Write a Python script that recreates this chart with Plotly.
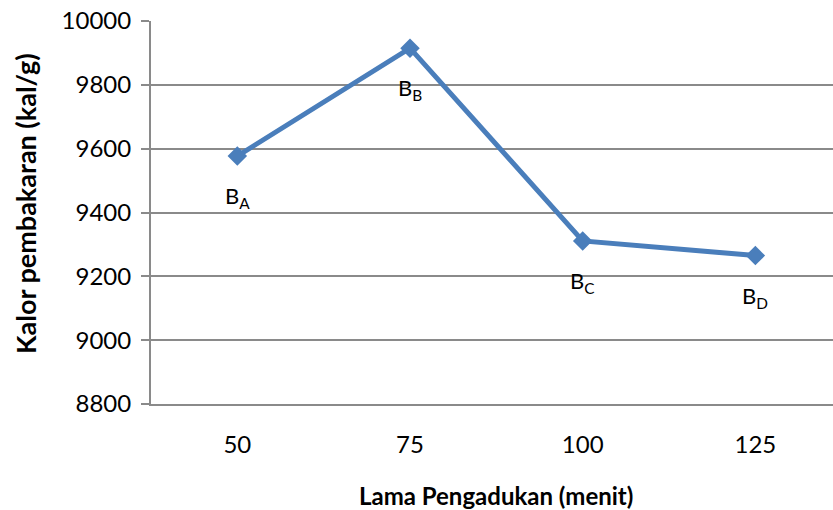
import plotly.graph_objects as go

categories = ["50", "75", "100", "125"]
kalor = [9577, 9915, 9311, 9265]
label_main = ["B", "B", "B", "B"]
label_sub = ["A", "B", "C", "D"]
y_ticks = [8800, 9000, 9200, 9400, 9600, 9800, 10000]

FONT = "Lato"
BLUE = "#4A7EBB"
GRID = "#8A8A8A"

L, T, B = 151, 21, 106
W, H = 833, 510
PW, PH = W - L, H - T - B

fig = go.Figure()
fig.add_trace(go.Scatter(
    x=categories, y=kalor, mode="lines+markers",
    line=dict(color=BLUE, width=5),
    marker=dict(symbol="diamond", size=15, color=BLUE),
    showlegend=False, cliponaxis=False,
))

for i, (v, m, s) in enumerate(zip(kalor, label_main, label_sub)):
    fig.add_annotation(
        x=i, y=v, xref="x", yref="y",
        text=f"{m}<sub>{s}</sub>", showarrow=False,
        yshift=-41, xshift=0,
        font=dict(family=FONT, size=22, color="#000000"),
    )

fig.add_annotation(
    text="<b>Lama Pengadukan (menit)</b>", xref="paper", yref="paper",
    x=(496 - L) / PW, y=-(495 - (H - B)) / PH, showarrow=False,
    xanchor="center", yanchor="middle",
    font=dict(family=FONT, size=24, color="#000000"),
)
fig.add_annotation(
    text="<b>Kalor pembakaran (kal/g)</b>", xref="paper", yref="paper",
    x=-(L - 26) / PW, y=((H - B) - 204) / PH, showarrow=False, textangle=-90,
    xanchor="center", yanchor="middle",
    font=dict(family=FONT, size=27, color="#000000"),
)

fig.update_layout(
    width=W, height=H,
    margin=dict(l=L, r=0, t=T, b=B, autoexpand=False),
    paper_bgcolor="white", plot_bgcolor="white",
    font=dict(family=FONT, size=24, color="#000000"),
    xaxis=dict(
        type="category", range=[-0.5, -0.5 + PW / 172.67],
        showgrid=False, showline=True, linecolor=GRID, linewidth=2,
        ticks="", ticklabelstandoff=18, ticklabeloverflow="allow",
        tickfont=dict(family=FONT, size=24, color="#000000"),
    ),
    yaxis=dict(
        range=[8800, 10000], tickvals=y_ticks, tickformat="d",
        showgrid=True, gridcolor=GRID, gridwidth=1.5,
        showline=True, linecolor=GRID, linewidth=2,
        ticks="outside", ticklen=8, tickcolor=GRID, tickwidth=2,
        ticklabelstandoff=5, ticklabeloverflow="allow",
        tickfont=dict(family=FONT, size=24, color="#000000"),
        zeroline=False,
    ),
)

fig.write_html(
    "out.html",
    config={"displayModeBar": False},
    post_script="document.body.style.margin='0';document.body.style.overflow='hidden';",
)
